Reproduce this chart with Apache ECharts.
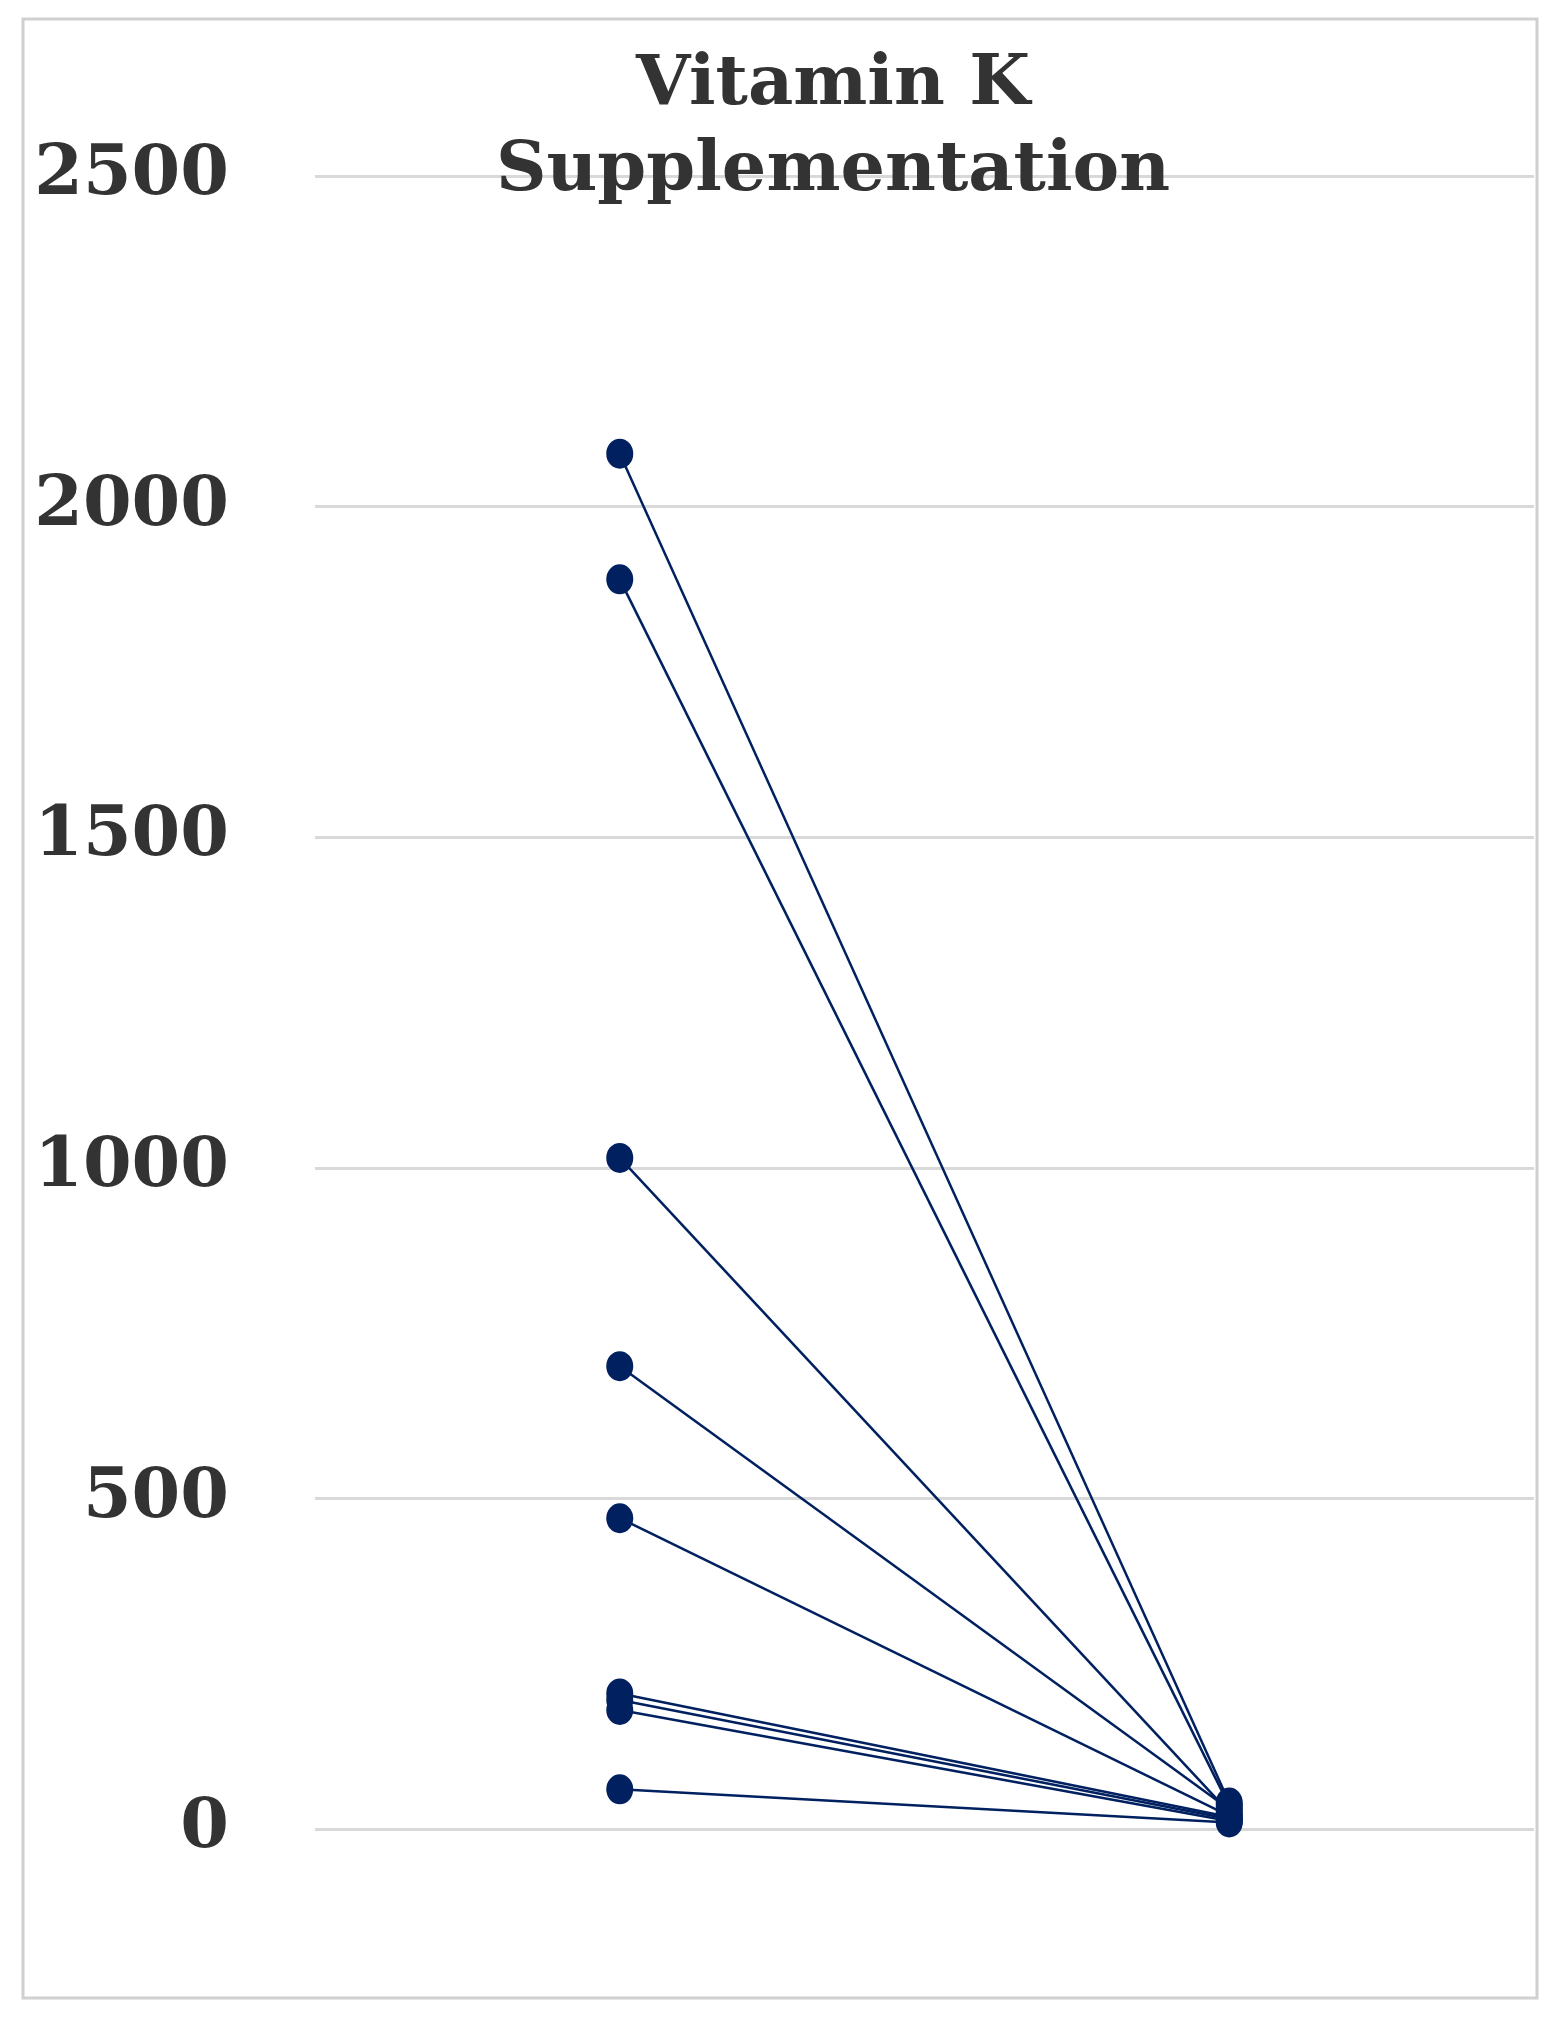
<!DOCTYPE html>
<html lang="en" style="height: 100%">
<head>
  <meta charset="utf-8">
</head>
<body style="height: 100%; margin: 0; background: #fff">
  <div id="container" style="height: 100%"></div>
  <script type="text/javascript" src="https://fastly.jsdelivr.net/npm/echarts@6/dist/echarts.min.js"></script>
  <script type="text/javascript">
    var dom = document.getElementById('container');
    var myChart = echarts.init(dom, null, { renderer: 'canvas' });

    // before / after pairs
    var categories = ['Before', 'After'];
    var beforeValues = [2080, 1890, 1015, 700, 470, 205, 195, 180, 60];
    var afterValues = [40, 35, 25, 30, 20, 18, 15, 12, 10];
    var yTicks = [0, 500, 1000, 1500, 2000, 2500];

    var lineColor = '#002060';
    var series = [];
    for (var i = 0; i < beforeValues.length; i++) {
      series.push({
        type: 'line',
        data: [beforeValues[i], afterValues[i]],
        symbol: 'circle',
        symbolSize: [27, 30],
        lineStyle: { color: lineColor, width: 2.5 },
        itemStyle: { color: lineColor },
        emphasis: { disabled: true }
      });
    }

    var option = {
      animation: false,
      title: {
        text: 'Vitamin K\nSupplementation',
        left: 828,
        textAlign: 'center',
        top: 38,
        textStyle: {
          fontFamily: 'DejaVu Serif',
          fontWeight: 'bold',
          fontSize: 70,
          lineHeight: 86,
          color: '#333'
        }
      },
      graphic: [{
        type: 'rect',
        shape: { x: 23, y: 19, width: 1514, height: 1979 },
        style: { fill: 'none', stroke: '#d0d0d0', lineWidth: 3 },
        z: -1
      }],
      grid: { left: 315, right: 29, top: 176, bottom: 196 },
      xAxis: {
        type: 'category',
        data: categories,
        axisLine: { show: false },
        axisTick: { show: false },
        axisLabel: { show: false }
      },
      yAxis: {
        type: 'value',
        min: yTicks[0],
        max: yTicks[yTicks.length - 1],
        interval: 500,
        axisLine: { show: false },
        axisTick: { show: false },
        axisLabel: {
          margin: 86,
          formatter: function (v) { return String(v); },
          fontFamily: 'DejaVu Serif',
          fontWeight: 'bold',
          fontSize: 70,
          color: '#333'
        },
        splitLine: { lineStyle: { color: '#d9d9d9', width: 3 } }
      },
      series: series
    };

    myChart.setOption(option);
    window.addEventListener('resize', myChart.resize);
  </script>
</body>
</html>
